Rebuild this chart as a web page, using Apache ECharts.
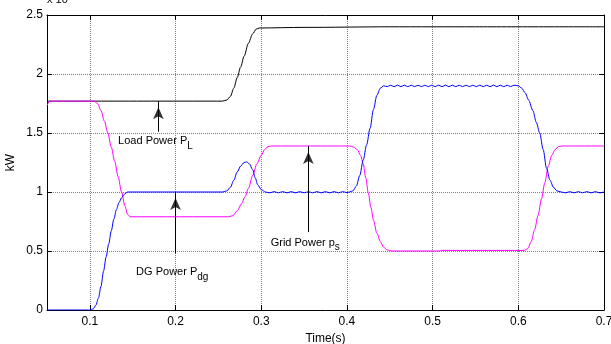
<!DOCTYPE html>
<html>
<head>
<meta charset="utf-8">
<script src="https://cdn.jsdelivr.net/npm/echarts@6/dist/echarts.min.js"></script>
<style>
  html, body { margin: 0; padding: 0; background: #fff; overflow: hidden; }
  #chart { width: 611px; height: 344px; }
</style>
</head>
<body>
<div id="chart"></div>
<script>
// power traces (x 10^4 kW), [time s, value]
const loadPower = [
  [0.05, 1.77], [0.255, 1.77], [0.26, 1.78], [0.264, 1.81], [0.268, 1.88], [0.272, 1.97],
  [0.276, 2.06], [0.28, 2.15], [0.285, 2.26], [0.29, 2.34], [0.294, 2.38], [0.298, 2.39],
  [0.35, 2.395], [0.45, 2.4], [0.55, 2.4], [0.7, 2.4]
];

const gridPower = [
  [0.05, 1.73], [0.053, 1.77], [0.105, 1.77], [0.109, 1.75], [0.113, 1.69], [0.117, 1.6],
  [0.121, 1.5], [0.125, 1.38], [0.129, 1.26], [0.133, 1.13], [0.137, 1.0], [0.141, 0.88],
  [0.144, 0.81], [0.147, 0.79], [0.262, 0.79], [0.267, 0.8], [0.272, 0.84], [0.277, 0.9],
  [0.281, 0.96], [0.285, 1.03], [0.29, 1.14], [0.295, 1.24], [0.3, 1.31], [0.304, 1.36],
  [0.308, 1.385], [0.312, 1.39], [0.403, 1.39], [0.408, 1.38], [0.412, 1.36], [0.416, 1.31],
  [0.419, 1.24], [0.422, 1.12], [0.425, 0.99], [0.428, 0.87], [0.431, 0.76], [0.435, 0.65],
  [0.439, 0.58], [0.443, 0.53], [0.447, 0.51], [0.452, 0.5], [0.508, 0.5], [0.51, 0.505],
  [0.607, 0.505], [0.611, 0.52], [0.615, 0.58], [0.619, 0.68], [0.623, 0.8], [0.627, 0.94],
  [0.631, 1.08], [0.635, 1.22], [0.639, 1.31], [0.643, 1.36], [0.647, 1.385], [0.652, 1.39],
  [0.7, 1.39]
];

const dgPower = [
  [0.05, 0], [0.1, 0], [0.104, 0.01], [0.107, 0.04], [0.11, 0.1], [0.113, 0.2], [0.116, 0.33],
  [0.119, 0.45], [0.122, 0.56], [0.125, 0.67], [0.128, 0.77], [0.131, 0.85], [0.134, 0.91],
  [0.137, 0.95], [0.14, 0.98], [0.144, 1.0], [0.255, 1.0], [0.26, 1.01], [0.264, 1.04],
  [0.268, 1.1], [0.272, 1.17], [0.276, 1.22], [0.28, 1.25], [0.283, 1.255], [0.286, 1.24],
  [0.29, 1.19], [0.293, 1.12], [0.296, 1.06], [0.3, 1.02], [0.305, 1.0],
  [0.31, 0.993], [0.315, 1.003], [0.32, 0.993], [0.325, 1.003], [0.33, 0.993], [0.335, 1.003],
  [0.34, 0.993], [0.345, 1.003], [0.35, 0.993], [0.355, 1.003], [0.36, 0.993], [0.365, 1.003],
  [0.37, 0.993], [0.375, 1.003], [0.38, 0.993], [0.385, 1.003], [0.39, 0.993], [0.395, 1.003],
  [0.4, 0.995], [0.403, 1.0], [0.407, 1.01], [0.411, 1.05], [0.415, 1.14], [0.419, 1.27],
  [0.423, 1.4], [0.427, 1.54], [0.431, 1.7], [0.435, 1.82], [0.439, 1.88], [0.443, 1.9],
  [0.447, 1.893], [0.451, 1.905], [0.455, 1.893], [0.459, 1.905], [0.463, 1.893], [0.467, 1.905],
  [0.471, 1.893], [0.475, 1.905], [0.479, 1.893], [0.483, 1.905], [0.487, 1.893], [0.491, 1.905],
  [0.495, 1.893], [0.499, 1.905], [0.503, 1.893], [0.507, 1.905], [0.511, 1.893], [0.515, 1.905],
  [0.519, 1.893], [0.523, 1.905], [0.527, 1.893], [0.531, 1.905], [0.535, 1.893], [0.539, 1.905],
  [0.543, 1.893], [0.547, 1.905], [0.551, 1.893], [0.555, 1.905], [0.559, 1.893], [0.563, 1.905],
  [0.567, 1.893], [0.571, 1.905], [0.575, 1.893], [0.579, 1.905], [0.583, 1.893], [0.587, 1.905],
  [0.591, 1.893], [0.595, 1.905], [0.6, 1.9], [0.604, 1.88], [0.608, 1.84], [0.612, 1.78],
  [0.617, 1.69], [0.621, 1.59], [0.625, 1.5], [0.629, 1.36], [0.633, 1.2], [0.637, 1.1],
  [0.641, 1.04], [0.645, 1.01], [0.65, 1.0], [0.655, 0.993], [0.66, 1.003], [0.665, 0.993],
  [0.67, 1.003], [0.675, 0.993], [0.68, 1.003], [0.685, 0.993], [0.69, 1.003], [0.695, 0.993],
  [0.7, 1.0]
];

// annotation arrows: [time, tail value, tip value]
const arrows = [[0.18, 1.51, 1.77], [0.2, 0.48, 1.0], [0.355, 0.66, 1.39]];
// annotation texts: [time, value, main text, subscript]
const notes = [
  [0.133, 1.43, 'Load Power P', 'L'],
  [0.154, 0.32, 'DG Power P', 'dg'],
  [0.311, 0.57, 'Grid Power p', 's']
];

const FONT = 'Liberation Sans, Arial, sans-serif';
const chart = echarts.init(document.getElementById('chart'));

const frameX = {
  type: 'value', min: 0.05, max: 0.7,
  axisLine: { show: true, onZero: false, lineStyle: { color: '#000', width: 1 } },
  axisTick: { show: true, inside: true, length: 5, lineStyle: { color: '#000' } }
};
const frameY = {
  type: 'value', min: 0, max: 2.5, interval: 0.5,
  axisLine: { show: true, onZero: false, lineStyle: { color: '#000', width: 1 } },
  axisTick: { show: true, inside: true, length: 5, lineStyle: { color: '#000' } }
};
const gridLine = { show: true, lineStyle: { color: '#808080', type: 'dotted', width: 1 } };

const option = {
  animation: false,
  backgroundColor: '#fff',
  textStyle: { fontFamily: FONT },
  grid: { left: 47, right: 7, top: 15, bottom: 34, outerBoundsMode: 'none', containLabel: false },
  xAxis: [
    Object.assign({}, frameX, {
      position: 'bottom',
      name: 'Time(s)', nameLocation: 'middle', nameGap: 21,
      nameTextStyle: { color: '#000', fontSize: 12, fontFamily: FONT },
      axisLabel: { color: '#000', fontSize: 12, fontFamily: FONT, margin: 6, showMinLabel: false },
      splitLine: gridLine
    }),
    Object.assign({}, frameX, {
      position: 'top',
      axisLabel: { show: false },
      splitLine: { show: false }
    })
  ],
  yAxis: [
    Object.assign({}, frameY, {
      position: 'left',
      name: 'kW', nameLocation: 'middle', nameGap: 30, nameRotate: 90, nameMoveOverlap: false,
      nameTextStyle: { color: '#000', fontSize: 12, fontFamily: FONT },
      axisLabel: { color: '#000', fontSize: 12, fontFamily: FONT, margin: 4 },
      splitLine: gridLine
    }),
    Object.assign({}, frameY, {
      position: 'right',
      axisLabel: { show: false },
      splitLine: { show: false }
    })
  ],
  graphic: [{
    type: 'text', left: 47, top: -6, silent: true,
    style: { text: 'x 10', fill: '#000', font: '11px ' + FONT }
  }],
  series: [
    {
      name: 'Load', type: 'line', data: loadPower, showSymbol: false,
      smooth: 0.3, smoothMonotone: 'x',
      lineStyle: { color: '#000', width: 1 }
    },
    {
      name: 'Grid', type: 'line', data: gridPower, showSymbol: false,
      smooth: 0.3, smoothMonotone: 'x',
      lineStyle: { color: '#ff00ff', width: 1 }
    },
    {
      name: 'DG', type: 'line', data: dgPower, showSymbol: false,
      smooth: 0.3, smoothMonotone: 'x',
      lineStyle: { color: '#0000ff', width: 1 }
    },
    {
      // arrow heads at the tips
      name: 'heads', type: 'scatter', silent: true,
      symbol: 'arrow', symbolSize: [8, 12], symbolOffset: [0, '50%'],
      itemStyle: { color: '#000' },
      data: arrows.map(a => [a[0], a[2]]),
      markLine: {
        silent: true, animation: false,
        symbol: ['none', 'none'],
        label: { show: false },
        lineStyle: { color: '#000', width: 1, type: 'solid' },
        data: arrows.map(a => [{ coord: [a[0], a[1]] }, { coord: [a[0], a[2]] }])
      },
      markPoint: {
        silent: true, animation: false,
        symbol: 'circle', symbolSize: 0,
        label: {
          show: true, position: 'right', distance: 0,
          formatter: p => '{a|' + p.data.main + '}{s|' + p.data.sub + '}',
          rich: {
            a: { fontSize: 11, color: '#000', fontFamily: FONT },
            s: { fontSize: 10, color: '#000', fontFamily: FONT, padding: [10, 0, 0, 0] }
          }
        },
        data: notes.map(n => ({ coord: [n[0], n[1]], main: n[2], sub: n[3] }))
      }
    }
  ]
};

chart.setOption(option);
</script>
</body>
</html>
